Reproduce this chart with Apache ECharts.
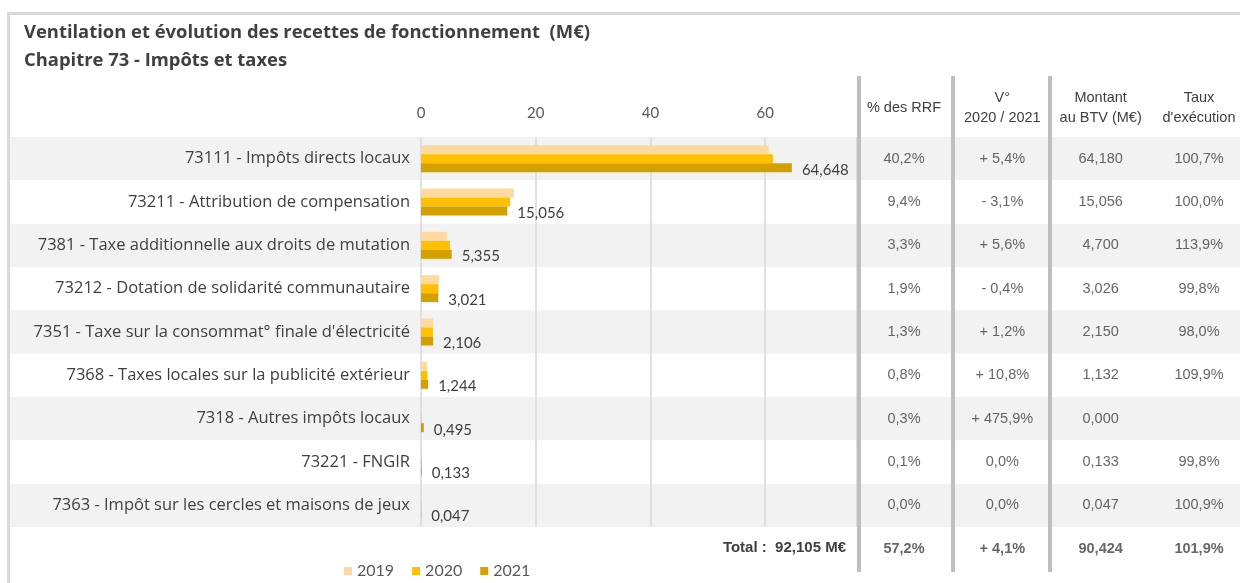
<!DOCTYPE html>
<html>
<head>
<meta charset="utf-8">
<script src="https://cdn.jsdelivr.net/npm/echarts@6/dist/echarts.min.js"></script>
<style>
html, body { margin: 0; padding: 0; background: #fff; }
#chart { width: 1240px; height: 583px; }
</style>
</head>
<body>
<div id="chart"></div>
<script>
// libellés des chapitres
var categories = [
	'73111 - Impôts directs locaux',
	'73211 - Attribution de compensation',
	'7381 - Taxe additionnelle aux droits de mutation',
	'73212 - Dotation de solidarité communautaire',
	"7351 - Taxe sur la consommat° finale d'électricité",
	'7368 - Taxes locales sur la publicité extérieur',
	'7318 - Autres impôts locaux',
	'73221 - FNGIR',
	'7363 - Impôt sur les cercles et maisons de jeux'
];
var annees = ['2019', '2020', '2021'];
var valeurs2019 = [60.6, 16.2, 4.5, 3.14, 2.1, 1.05, 0.05, 0.2, 0.15];
var valeurs2020 = [61.34, 15.54, 5.07, 3.033, 2.081, 1.123, 0.086, 0.133, 0.047];
var valeurs2021 = [64.648, 15.056, 5.355, 3.021, 2.106, 1.244, 0.495, 0.133, 0.047];

// tableau de droite
var enTetes = ['% des RRF', 'V°\n2020 / 2021', 'Montant\nau BTV (M€)', "Taux\nd'exécution"];
var partRRF = ['40,2%', '9,4%', '3,3%', '1,9%', '1,3%', '0,8%', '0,3%', '0,1%', '0,0%'];
var variation = ['+ 5,4%', '- 3,1%', '+ 5,6%', '- 0,4%', '+ 1,2%', '+ 10,8%', '+ 475,9%', '0,0%', '0,0%'];
var montantBTV = ['64,180', '15,056', '4,700', '3,026', '2,150', '1,132', '0,000', '0,133', '0,047'];
var tauxExecution = ['100,7%', '100,0%', '113,9%', '99,8%', '98,0%', '109,9%', '', '99,8%', '100,9%'];
var totalRecettes = '92,105 M€';
var totaux = ['57,2%', '+ 4,1%', '90,424', '101,9%'];

var couleurs = ['#ffd9a0', '#ffc000', '#d4a000'];
var police = 'Lato, "Open Sans", sans-serif';
var policeLib = '"Open Sans", Lato, sans-serif';
var policeTab = '"Liberation Sans", Arial, sans-serif';

var lignes = categories.map(function (c, i) { return String(i); });
lignes.push('total');

var cellules = [];
var colonnes = [partRRF, variation, montantBTV, tauxExecution];
for (var r = 0; r < categories.length; r++) {
	for (var c = 0; c < colonnes.length; c++) {
		cellules.push({ value: [c, r], name: colonnes[c][r] });
	}
}
for (var k = 0; k < totaux.length; k++) {
	cellules.push({ value: [k, categories.length], name: totaux[k], label: { fontWeight: 'bold' } });
}

function fmt(v) {
	return v.toFixed(3).replace('.', ',');
}

var echart = echarts.init(document.getElementById('chart'), null, { renderer: 'canvas' });
echart.setOption({
	animation: false,
	title: {
		text: 'Ventilation et évolution des recettes de fonctionnement  (M€)\nChapitre 73 - Impôts et taxes',
		left: 19,
		top: 14,
		textStyle: { fontFamily: policeLib, fontSize: 18.4, fontWeight: 'bold', color: '#404040', lineHeight: 28 }
	},
	legend: {
		data: annees,
		left: 339,
		top: 558,
		icon: 'rect',
		itemWidth: 8,
		itemHeight: 8,
		itemGap: 18,
		textStyle: { fontFamily: police, fontSize: 16, color: '#595959' }
	},
	grid: [
		{ left: 421, top: 137, width: 436, height: 390 },
		{ left: 8, right: 0, top: 137, height: 433.3 },
		{ left: 904, width: 295, top: 137, height: 433.3 }
	],
	xAxis: [
		{
			gridIndex: 0, type: 'value', position: 'top', min: 0, max: 76, interval: 20, z: 1,
			axisLine: { show: false }, axisTick: { show: false },
			axisLabel: {
				margin: 24, verticalAlign: 'middle', showMaxLabel: false,
				fontFamily: police, fontSize: 15, color: '#595959'
			},
			splitLine: { lineStyle: { color: '#d9d9d9', width: 1.5 } }
		},
		{ gridIndex: 1, type: 'value', show: false, min: 0, max: 1 },
		{
			gridIndex: 2, type: 'category', data: enTetes, position: 'top', boundaryGap: false, z: 1,
			axisLine: { show: false }, axisTick: { show: false }, splitLine: { show: false },
			axisLabel: {
				interval: 0, margin: 29, verticalAlign: 'middle', lineHeight: 20,
				fontFamily: policeTab, fontSize: 14.5, color: '#404040'
			}
		}
	],
	yAxis: [
		{
			gridIndex: 0, type: 'category', data: categories, inverse: true, z: 1,
			axisLine: { show: false }, axisTick: { show: false },
			axisLabel: { margin: 11, fontFamily: policeLib, fontSize: 16.5, color: '#404040' }
		},
		{
			gridIndex: 1, type: 'category', data: lignes, inverse: true, z: 0,
			axisLine: { show: false }, axisTick: { show: false }, axisLabel: { show: false },
			splitLine: { show: false },
			splitArea: { show: true, areaStyle: { color: ['#f2f2f2', '#ffffff'] } }
		},
		{
			gridIndex: 2, type: 'category', data: lignes, inverse: true, show: false
		}
	],
	series: [
		{
			name: '2019', type: 'bar', xAxisIndex: 0, yAxisIndex: 0, data: valeurs2019,
			barWidth: 9, barGap: '0%', itemStyle: { color: couleurs[0] }
		},
		{
			name: '2020', type: 'bar', xAxisIndex: 0, yAxisIndex: 0, data: valeurs2020,
			barWidth: 9, barGap: '0%', itemStyle: { color: couleurs[1] }
		},
		{
			name: '2021', type: 'bar', xAxisIndex: 0, yAxisIndex: 0, data: valeurs2021,
			barWidth: 9, barGap: '0%', itemStyle: { color: couleurs[2] },
			label: {
				show: true, position: 'right', distance: 10, offset: [0, 2],
				fontFamily: police, fontSize: 15, color: '#404040',
				formatter: function (p) { return fmt(p.value); }
			}
		},
		{
			type: 'scatter', xAxisIndex: 1, yAxisIndex: 1, data: [], silent: true
		},
		{
			type: 'scatter', xAxisIndex: 2, yAxisIndex: 2, data: cellules, symbolSize: 0, silent: true,
			label: {
				show: true, position: 'inside', formatter: '{b}',
				fontFamily: policeTab, fontSize: 14.5, color: '#404040'
			}
		}
	],
	graphic: [
		{ type: 'line', z: 10, shape: { x1: 7, y1: 13.5, x2: 1240, y2: 13.5 }, style: { stroke: '#d9d9d9', lineWidth: 3 } },
		{ type: 'line', z: 10, shape: { x1: 8.5, y1: 12, x2: 8.5, y2: 583 }, style: { stroke: '#d9d9d9', lineWidth: 3 } },
		{ type: 'line', z: 10, shape: { x1: 859, y1: 76, x2: 859, y2: 572 }, style: { stroke: '#bfbfbf', lineWidth: 4 } },
		{ type: 'line', z: 10, shape: { x1: 953, y1: 76, x2: 953, y2: 572 }, style: { stroke: '#bfbfbf', lineWidth: 4 } },
		{ type: 'line', z: 10, shape: { x1: 1050, y1: 76, x2: 1050, y2: 572 }, style: { stroke: '#bfbfbf', lineWidth: 4 } },
		{
			type: 'text', z: 10, x: 846, y: 548,
			style: {
				text: 'Total :  ' + totalRecettes, align: 'right', verticalAlign: 'middle',
				font: 'bold 15px "Liberation Sans", Arial, sans-serif', fill: '#404040'
			}
		}
	]
});
</script>
</body>
</html>
